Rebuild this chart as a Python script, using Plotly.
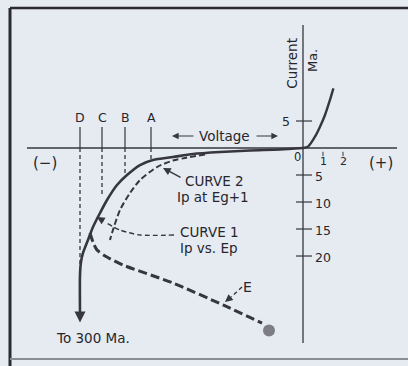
import plotly.graph_objects as go

# curve 1: plate current vs plate voltage (volts, mA)
c1_v = [0, -1.15, -2.65, -4.15, -5.5, -6.5, -7.5, -8.15, -8.8, -9.3, -9.8, -10.15, -10.5, -10.75, -11.0, -11.1, -11.15, -11.15]
c1_ma = [0, -0.28, -0.46, -0.74, -1.11, -1.67, -2.22, -3.15, -5.0, -6.85, -9.63, -12.04, -14.63, -17.04, -19.44, -21.1, -23.5, -30.6]

# curve 2: Ip at Eg+1 (dashed)
c2_v = [-4.9, -5.9, -6.5, -7.3, -8.15, -8.65, -9.15, -9.55, -9.65]
c2_ma = [-1.2, -1.85, -2.31, -3.52, -5.93, -8.33, -11.48, -15.74, -17.04]

# curve E
ce_v = [-10.65, -10.5, -10.3, -9.8, -9.0, -6.5, -4.0, -2.05]
ce_ma = [-15.74, -17.41, -18.89, -20.19, -21.67, -25.0, -29.07, -32.41]

# positive side
pos_v = [0, 0.25, 0.6, 0.85, 1.1, 1.32, 1.52]
pos_ma = [0, 0.24, 2.09, 3.94, 6.11, 8.57, 11.06]

# marker lines A-D
mark_lbl = ["D", "C", "B", "A"]
mark_v = [-11.15, -10.05, -8.9, -7.6]
mark_end = [-23.5, -9.07, -5.0, -2.22]
mark_top = 3.9

# axes
x_axis = [-13.8, 4.7]
y_axis = [22.8, -36.1]
y_ticks_up = [5]
y_ticks_dn = [-5, -10, -15, -20]
x_ticks = [1, 2]

ink = "#36363e"
bg = "#e6eaf1"
fnt = dict(family="DejaVu Sans, Liberation Sans, sans-serif", size=12, color="#26262c")

fig = go.Figure()

def line(x, y, w=1.3, dash="solid", color=ink, shape="linear"):
    fig.add_trace(go.Scatter(x=x, y=y, mode="lines", hoverinfo="skip",
                             line=dict(color=color, width=w, dash=dash, shape=shape, smoothing=0.7)))

# axes
line(x_axis, [0, 0], 1.3)
line([0, 0], y_axis, 1.3)
for t in y_ticks_up + y_ticks_dn:
    line([-0.35, 0.45], [t, t], 1.2)
for t in x_ticks:
    line([t, t], [-0.7, -1.5], 1.0)

# marker lines
for v, e in zip(mark_v, mark_end):
    line([v, v], [mark_top, 0], 1.2)
    line([v, v], [0, e], 1.3, "4px,3px")

# curves
line(c1_v, c1_ma, 2.6, shape="spline")
line(c2_v, c2_ma, 2.0, "6px,3px", shape="spline")
line(ce_v, ce_ma, 3.0, "9px,4px", shape="spline")
line(pos_v, pos_ma, 2.4, shape="spline")

# blob at end of E
fig.add_trace(go.Scatter(x=[-1.7], y=[-33.8], mode="markers", hoverinfo="skip",
                         marker=dict(size=12, color="#6a6a74", opacity=0.85)))

# leader for curve 1
ld1_v = [-6.45, -8.15, -9.15, -9.9]
ld1_ma = [-16.11, -16.11, -15.19, -13.7]
line(ld1_v, ld1_ma, 1.4, "5px,3px", shape="spline")
# leader for E
line([-3.05, -3.6], [-25.74, -27.6], 1.4, "4px,3px")

def arrow(x, y, ax, ay, w=1.4):
    fig.add_annotation(x=x, y=y, ax=ax, ay=ay, xref="x", yref="y", axref="x", ayref="y",
                       text="", showarrow=True, arrowhead=2, arrowsize=1.1,
                       arrowwidth=w, arrowcolor=ink, standoff=0)

arrow(-11.15, -32.3, -11.15, -30.0, 2.0)
arrow(-10.3, -12.78, -9.9, -13.7)
arrow(-3.9, -28.52, -3.6, -27.6)
arrow(-7.0, -3.7, -6.05, -5.6)
arrow(-6.55, 2.22, -5.4, 2.22, 1.2)
arrow(-1.25, 2.22, -2.4, 2.22, 1.2)

def text(s, x, y, xa="center", size=13.5, angle=0):
    f = dict(fnt)
    f["size"] = size
    fig.add_annotation(x=x, y=y, text=s, showarrow=False, xanchor=xa, yanchor="middle",
                       font=f, textangle=angle)

for lbl, v in zip(mark_lbl, mark_v):
    text(lbl, v, 5.6, size=12.5)
text("5", -0.55, 5, "right", 12.5)
for t in y_ticks_dn:
    text(str(-t), 0.5, t - 0.2, "left", 12.5)
text("0", -0.3, -1.67, size=11.5)
for t in x_ticks:
    text(str(t), t, -2.5, size=11)
text("(−)", -12.9, -2.78, size=15)
text("(+)", 3.9, -2.78, size=15)
text("Current", -0.55, 15.6, angle=-90)
text("Ma.", 0.45, 16.1, angle=-90, size=13)
text("Voltage", -3.95, 2.22)
text("CURVE 2", -4.45, -6.11)
text("Ip at Eg+1", -4.5, -9.07)
text("CURVE 1", -4.7, -15.56)
text("Ip vs. Ep", -4.7, -18.52)
text("E", -2.8, -25.74, size=14)
text("To 300 Ma.", -10.5, -35.2)

# frame
fig.add_shape(type="line", xref="paper", yref="paper", x0=10/408, x1=10/408, y0=0, y1=1-8/366,
              line=dict(color="#2a2a30", width=3))
fig.add_shape(type="line", xref="paper", yref="paper", x0=10/408, x1=1, y0=1-8/366, y1=1-8/366,
              line=dict(color="#2a2a30", width=2.5))
fig.add_shape(type="line", xref="paper", yref="paper", x0=10/408, x1=1, y0=1-359/366, y1=1-359/366,
              line=dict(color="#8a8d96", width=2))

fig.update_layout(width=408, height=366, margin=dict(l=0, r=0, t=0, b=0),
                  paper_bgcolor=bg, plot_bgcolor=bg, showlegend=False,
                  xaxis=dict(range=[-15.15, 5.25], visible=False, fixedrange=True),
                  yaxis=dict(range=[-40.37, 27.41], visible=False, fixedrange=True))

fig.write_html("out.html", config={"displayModeBar": False},
               post_script="document.body.style.margin='0';document.body.style.background='" + bg + "';")
